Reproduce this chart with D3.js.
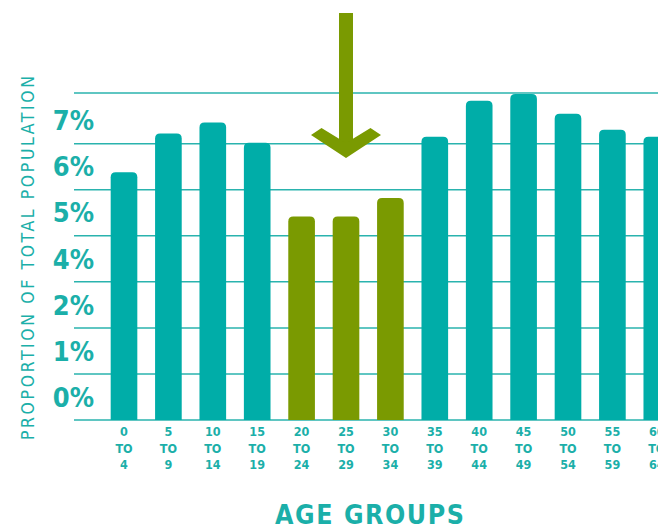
<!DOCTYPE html>
<html>
<head>
<meta charset="utf-8">
<script src="https://cdn.jsdelivr.net/npm/d3@7/dist/d3.min.js"></script>
<style>
  html, body { margin: 0; padding: 0; background: #ffffff; }
  svg { display: block; }
</style>
</head>
<body>
<div id="chart"></div>
<script>
// ---- data ----
const ageStarts = ["0","5","10","15","20","25","30","35","40","45","50","55","60"];
const ageEnds   = ["4","9","14","19","24","29","34","39","44","49","54","59","64"];
// bar heights in chart units (one unit = one grid band)
const values    = [5.38, 6.22, 6.46, 6.02, 4.42, 4.42, 4.82, 6.15, 6.93, 7.08, 6.65, 6.30, 6.15];
const highlighted = ["20","25","30"];
const yTickLabels = ["0%","1%","2%","4%","5%","6%","7%"];
const gridLevels  = [0, 1, 2, 3, 4, 5, 6, 7.1];
const arrowTarget = "25";

// ---- styles ----
const W = 658, H = 531;
const TEAL = "#00ADA8", GREEN = "#7A9A01", TEXT = "#1BAFA9", GRID = "#2AB3AE";
const FONT = "'DejaVu Sans Condensed', 'DejaVu Sans', sans-serif";

const svg = d3.select("#chart").append("svg").attr("width", W).attr("height", H);

const x = d3.scaleBand().domain(ageStarts)
  .range([101.8, 101.8 + 13 * 44.4])
  .paddingInner(0.4).paddingOuter(0.2);
const y = d3.scaleLinear().domain([0, 7.1]).range([420, 93]);

// grid lines
svg.append("g").selectAll("line").data(gridLevels).join("line")
  .attr("x1", 74).attr("x2", W)
  .attr("y1", d => y(d)).attr("y2", d => y(d))
  .attr("stroke", GRID).attr("stroke-width", 1.5);

// bars with rounded tops
function roundedTop(x0, y0, w, h, r) {
  return `M${x0},${y0 + h}V${y0 + r}Q${x0},${y0} ${x0 + r},${y0}H${x0 + w - r}Q${x0 + w},${y0} ${x0 + w},${y0 + r}V${y0 + h}Z`;
}
svg.append("g").selectAll("path").data(values).join("path")
  .attr("d", (d, i) => roundedTop(x(ageStarts[i]), y(d), x.bandwidth(), y(0) - y(d), 5))
  .attr("fill", (d, i) => highlighted.includes(ageStarts[i]) ? GREEN : TEAL);

// y tick labels (between grid lines)
svg.append("g").selectAll("text").data(yTickLabels).join("text")
  .attr("x", 94).attr("y", (d, i) => y(i + 0.5))
  .attr("dy", "0.36em")
  .attr("text-anchor", "end")
  .attr("font-family", FONT).attr("font-weight", "bold").attr("font-size", 27)
  .attr("fill", TEXT)
  .text(d => d);

// x tick labels (three lines)
const xl = svg.append("g").selectAll("text").data(ageStarts).join("text")
  .attr("text-anchor", "middle")
  .attr("font-family", FONT).attr("font-weight", "bold").attr("font-size", 12.5)
  .attr("fill", TEXT);
xl.each(function(d, i) {
  const cx = x(d) + x.bandwidth() / 2;
  const t = d3.select(this);
  [d, "TO", ageEnds[i]].forEach((s, k) => {
    t.append("tspan").attr("x", cx).attr("y", 436 + k * 16.5).text(s);
  });
});

// y axis title
svg.append("text")
  .attr("transform", "translate(34,258) rotate(-90)")
  .attr("text-anchor", "middle")
  .attr("font-family", FONT).attr("font-size", 17.5)
  .attr("fill", TEXT)
  .attr("textLength", 364).attr("lengthAdjust", "spacing")
  .text("PROPORTION OF TOTAL POPULATION");

// x axis title
svg.append("text")
  .attr("x", 369.5).attr("y", 523.5)
  .attr("text-anchor", "middle")
  .attr("font-family", FONT).attr("font-weight", "bold").attr("font-size", 26.5)
  .attr("fill", TEXT)
  .attr("textLength", 189).attr("lengthAdjust", "spacing")
  .text("AGE GROUPS");

// arrow annotation pointing at the highlighted group
const ax = x(arrowTarget) + x.bandwidth() / 2;
const tipY = y(5.69);
const arrow = svg.append("g").attr("fill", GREEN);
arrow.append("rect").attr("x", ax - 7).attr("width", 14)
  .attr("y", 13).attr("height", tipY - 12 - 13);
arrow.append("polygon").attr("points", [
  [ax - 35, tipY - 23], [ax - 24.5, tipY - 30], [ax, tipY - 15],
  [ax + 24.5, tipY - 30], [ax + 35, tipY - 23], [ax, tipY]
].map(p => p.join(",")).join(" "));
</script>
</body>
</html>
